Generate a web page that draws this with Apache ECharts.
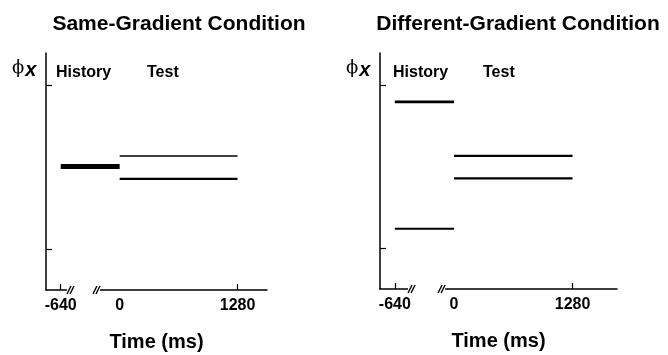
<!DOCTYPE html>
<html>
<head>
<meta charset="utf-8">
<script src="https://cdn.jsdelivr.net/npm/echarts@6/dist/echarts.min.js"></script>
<style>
  html, body { margin: 0; padding: 0; background: #fff; }
  #chart { width: 668px; height: 355px; }
</style>
</head>
<body>
<div id="chart"></div>
<script>
// Time windows (ms)
const historyTime = [-640, 0];
const testTime = [0, 1280];
const xTickValues = [-640, 1280];
const xLabelValues = [-640, 0, 1280];
const yTickValues = [-1, 1];

// Phase values (arbitrary units)
const sameHistoryPhi = [0.01];
const sameTestPhi = [0.14, -0.14];
const diffHistoryPhi = [0.80, -0.76];
const diffTestPhi = [0.135, -0.14];

// Axis-break spans on the time axis (ms)
const sameBreak = [-572, -214];
const diffBreak = [-497, -97];

const panelTitles = ['Same-Gradient Condition', 'Different-Gradient Condition'];
const phaseLabels = ['History', 'Test'];

const FONT = "'Liberation Sans', Arial, Helvetica, sans-serif";

function seg(times, phi, width, xi) {
  return {
    type: 'line',
    xAxisIndex: xi, yAxisIndex: xi,
    data: [[times[0], phi], [times[1], phi]],
    symbol: 'none',
    silent: true,
    animation: false,
    lineStyle: { color: '#000', width: width }
  };
}

function xAxisCfg(gi, max) {
  return {
    type: 'value', gridIndex: gi, min: -800, max: max,
    axisLine: { onZero: false, lineStyle: { color: '#000', width: 1.5 } },
    axisTick: { show: true, inside: true, length: 6, customValues: xTickValues,
                lineStyle: { color: '#000', width: 1.2 } },
    axisLabel: { customValues: xLabelValues, color: '#000', fontFamily: FONT,
                 fontWeight: 'bold', fontSize: 16, margin: 8,
                 formatter: function (v) { return String(v); } },
    splitLine: { show: false },
    name: 'Time (ms)', nameLocation: 'middle', nameGap: 42,
    nameTextStyle: { color: '#000', fontFamily: FONT, fontWeight: 'bold', fontSize: 20 }
  };
}

function yAxisCfg(gi) {
  return {
    type: 'value', gridIndex: gi, min: -1.5, max: 1.4,
    axisLine: { show: true, onZero: false, lineStyle: { color: '#000', width: 1.5 } },
    axisTick: { show: true, inside: true, length: 6, customValues: yTickValues,
                lineStyle: { color: '#000', width: 1.2 } },
    axisLabel: { show: false },
    splitLine: { show: false }
  };
}

const chart = echarts.init(document.getElementById('chart'), null, { renderer: 'canvas' });

chart.setOption({
  backgroundColor: '#fff',
  animation: false,
  title: [
    { text: panelTitles[0], left: 174, top: 9, textAlign: 'center',
      textStyle: { fontFamily: FONT, fontWeight: 'bold', fontSize: 21, color: '#000' } },
    { text: panelTitles[1], left: 513, top: 9, textAlign: 'center',
      textStyle: { fontFamily: FONT, fontWeight: 'bold', fontSize: 21, color: '#000' } }
  ],
  grid: [
    { left: 46, top: 53, width: 221, height: 237, outerBoundsMode: 'none', containLabel: false },
    { left: 380, top: 53, width: 237, height: 236, outerBoundsMode: 'none', containLabel: false }
  ],
  xAxis: [xAxisCfg(0, 1600), xAxisCfg(1, 1760)],
  yAxis: [yAxisCfg(0), yAxisCfg(1)],
  series: [
    seg(historyTime, sameHistoryPhi[0], 5, 0),
    seg(testTime, sameTestPhi[0], 1.6, 0),
    seg(testTime, sameTestPhi[1], 2.4, 0),
    seg(historyTime, diffHistoryPhi[0], 2.6, 1),
    seg(historyTime, diffHistoryPhi[1], 2, 1),
    seg(testTime, diffTestPhi[0], 2.2, 1),
    seg(testTime, diffTestPhi[1], 2.2, 1)
  ]
});

// Decorations: axis breaks ("//"), phase labels and the ϕx axis symbol
function decorations() {
  const els = [];
  const breaks = [sameBreak, diffBreak];
  [0, 1].forEach(function (gi) {
    const p1 = chart.convertToPixel({ xAxisIndex: gi, yAxisIndex: gi }, [breaks[gi][0], -1.5]);
    const p2 = chart.convertToPixel({ xAxisIndex: gi, yAxisIndex: gi }, [breaks[gi][1], -1.5]);
    const y = p1[1];
    els.push({ type: 'rect', shape: { x: p1[0], y: y - 3, width: p2[0] - p1[0], height: 6 },
               style: { fill: '#fff' }, z: 100 });
    [p1[0], p2[0] - 7].forEach(function (bx) {
      [0, 3].forEach(function (dx) {
        els.push({ type: 'line', z: 101,
          shape: { x1: bx + dx, y1: y + 4, x2: bx + dx + 4, y2: y - 4 },
          style: { stroke: '#000', lineWidth: 1.4 } });
      });
    });
    // ϕx symbol at the top of each vertical axis
    const top = chart.convertToPixel({ xAxisIndex: gi, yAxisIndex: gi }, [-800, 1.4]);
    els.push({ type: 'text', z: 101, x: top[0] - 34, y: top[1] + 3,
      style: { text: '{p|\u03D5}{x|x}', rich: {
        p: { fontFamily: "'DejaVu Serif', 'Liberation Serif', serif", fontSize: 18, fill: '#000' },
        x: { fontFamily: FONT, fontWeight: 'bold', fontStyle: 'italic', fontSize: 20, fill: '#000', padding: [4, 0, 0, 1] }
      }, verticalAlign: 'top' } });
  });
  const labelPos = [[56, 147], [393, 483]];
  labelPos.forEach(function (xs) {
    phaseLabels.forEach(function (t, i) {
      els.push({ type: 'text', z: 101, x: xs[i], y: 73,
        style: { text: t, fontFamily: FONT, fontWeight: 'bold', fontSize: 16, fill: '#000',
                 verticalAlign: 'middle' } });
    });
  });
  chart.setOption({ graphic: els });
}
decorations();
</script>
</body>
</html>
